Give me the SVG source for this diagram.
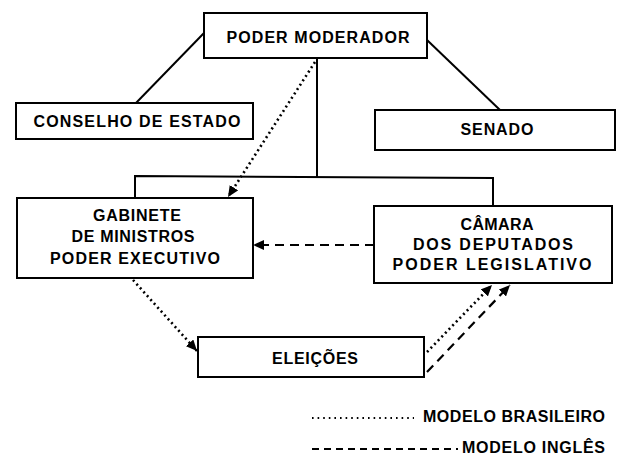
<svg xmlns="http://www.w3.org/2000/svg" width="628" height="456" viewBox="0 0 628 456">
<style>
.box{fill:#fff;stroke:#000;stroke-width:2}
.t{font-family:"Liberation Sans",Arial,sans-serif;font-weight:bold;font-size:16px;fill:#000;text-anchor:middle}
.tl{font-family:"Liberation Sans",Arial,sans-serif;font-weight:bold;font-size:16px;fill:#000}
.solid{fill:none;stroke:#000;stroke-width:2}
.dot{fill:none;stroke:#000;stroke-width:2.6;stroke-dasharray:2 3.2;stroke-linecap:butt}
.dotl{fill:none;stroke:#000;stroke-width:2;stroke-dasharray:1.6 4;stroke-linecap:butt}
.dash{fill:none;stroke:#000;stroke-width:2.2;stroke-dasharray:9 6}
.dashl{fill:none;stroke:#000;stroke-width:2;stroke-dasharray:7 5}
</style>
<defs>
<marker id="ah" markerUnits="userSpaceOnUse" markerWidth="12" markerHeight="10" refX="11" refY="5" orient="auto">
<path d="M0,0 L11,5 L0,10 Z" fill="#000"/>
</marker>
</defs>
<rect width="628" height="456" fill="#fff"/>
<g id="connectors">
<line class="solid" x1="204" y1="33" x2="135" y2="104"/>
<line class="solid" x1="427" y1="40" x2="500" y2="110"/>
<line class="solid" x1="317" y1="57" x2="317" y2="177"/>
<polyline class="solid" points="135,199 135,176 493,178 493,206"/>
<line class="dot" x1="315" y1="62" x2="228" y2="197" marker-end="url(#ah)"/>
<line class="dash" x1="374" y1="245" x2="253" y2="245" marker-end="url(#ah)"/>
<line class="dot" x1="133" y1="280" x2="197" y2="351" marker-end="url(#ah)"/>
<line class="dot" x1="427" y1="352" x2="492" y2="285" marker-end="url(#ah)"/>
<line class="dash" x1="427" y1="372" x2="510" y2="285" marker-end="url(#ah)"/>
</g>
<g id="poder-moderador">
<rect class="box" x="204" y="13" width="223" height="45"/>
<text class="t" x="318" y="43" textLength="183" lengthAdjust="spacing">PODER MODERADOR</text>
</g>
<g id="conselho-de-estado">
<rect class="box" x="16" y="103" width="237" height="36"/>
<text class="t" x="137" y="127" textLength="207" lengthAdjust="spacing">CONSELHO DE ESTADO</text>
</g>
<g id="senado">
<rect class="box" x="375" y="110" width="240" height="40"/>
<text class="t" x="497" y="135" textLength="73" lengthAdjust="spacing">SENADO</text>
</g>
<g id="gabinete">
<rect class="box" x="17" y="198" width="236" height="80"/>
<text class="t" x="137" y="221" textLength="88" lengthAdjust="spacing">GABINETE</text>
<text class="t" x="133" y="242" textLength="123" lengthAdjust="spacing">DE MINISTROS</text>
<text class="t" x="135" y="264" textLength="170" lengthAdjust="spacing">PODER EXECUTIVO</text>
</g>
<g id="camara">
<rect class="box" x="374" y="206" width="238" height="77"/>
<text class="t" x="497" y="230" textLength="73" lengthAdjust="spacing">CÂMARA</text>
<text class="t" x="493" y="250" textLength="160" lengthAdjust="spacing">DOS DEPUTADOS</text>
<text class="t" x="492" y="270" textLength="199" lengthAdjust="spacing">PODER LEGISLATIVO</text>
</g>
<g id="eleicoes">
<rect class="box" x="198" y="337" width="226" height="40"/>
<text class="t" x="315" y="364" textLength="86" lengthAdjust="spacing">ELEIÇÕES</text>
</g>
<g id="legend">
<line class="dotl" x1="312" y1="418" x2="414" y2="418"/>
<text class="tl" x="423" y="422" textLength="182" lengthAdjust="spacing">MODELO BRASILEIRO</text>
<line class="dashl" x1="312" y1="449" x2="458" y2="449"/>
<text class="tl" x="462" y="453" textLength="143" lengthAdjust="spacing">MODELO INGLÊS</text>
</g>
</svg>
